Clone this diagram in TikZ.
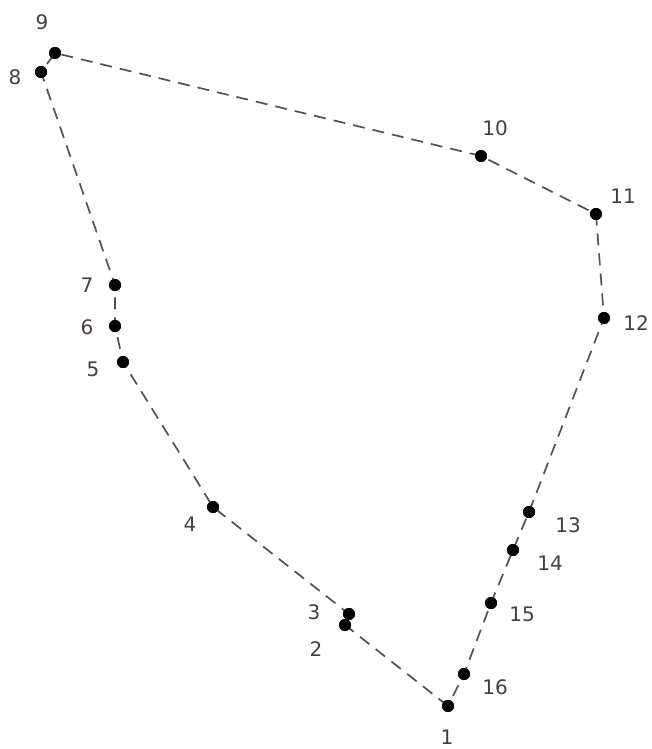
\documentclass[tikz,border=0pt]{standalone}
\usepackage{fontspec}
\setmainfont{DejaVu Sans}
\definecolor{edgecol}{RGB}{95,75,85}
\definecolor{numcol}{RGB}{70,60,70}
\tikzset{
    pt/.style={circle, fill=black, inner sep=0pt, minimum size=12pt},
    num/.style={text=numcol, font=\fontsize{20}{23}\selectfont, inner sep=0pt},
    hull/.style={edgecol, line width=1.7pt, dash pattern=on 12pt off 8pt}
}
\begin{document}
\begin{tikzpicture}[x=1pt, y=-1pt]

    \useasboundingbox (0,0) rectangle (651,749);

    % Points
    \node[pt] (p1) at (448,706) {};
    \node[pt] (p2) at (345,625) {};
    \node[pt] (p3) at (349,614) {};
    \node[pt] (p4) at (213,507) {};
    \node[pt] (p5) at (123,362) {};
    \node[pt] (p6) at (115,326) {};
    \node[pt] (p7) at (115,285) {};
    \node[pt] (p8) at (41,72) {};
    \node[pt] (p9) at (55,53) {};
    \node[pt] (p10) at (481,156) {};
    \node[pt] (p11) at (596,214) {};
    \node[pt] (p12) at (604,318) {};
    \node[pt] (p13) at (529,512) {};
    \node[pt] (p14) at (513,550) {};
    \node[pt] (p15) at (491,603) {};
    \node[pt] (p16) at (464,674) {};

    % Hull edges
    \draw[hull] (p1.center) -- (p2.center) -- (p3.center) -- (p4.center)
        -- (p5.center) -- (p6.center) -- (p7.center) -- (p8.center)
        -- (p9.center) -- (p10.center) -- (p11.center) -- (p12.center)
        -- (p13.center) -- (p14.center) -- (p15.center) -- (p16.center)
        -- (p1.center);

    % Redraw points on top
    \foreach \p in {p1,p2,p3,p4,p5,p6,p7,p8,p9,p10,p11,p12,p13,p14,p15,p16}
        \fill (\p) circle (6pt);

    % Labels
    \node[num] (n1) at (447,737) {1};
    \node[num] (n2) at (316,649) {2};
    \node[num] (n3) at (314,612) {3};
    \node[num] (n4) at (190,524) {4};
    \node[num] (n5) at (93,369) {5};
    \node[num] (n6) at (87,327) {6};
    \node[num] (n7) at (87,285) {7};
    \node[num] (n8) at (15,77) {8};
    \node[num] (n9) at (42,22) {9};
    \node[num] (n10) at (495,128) {10};
    \node[num] (n11) at (623,196) {11};
    \node[num] (n12) at (636,323) {12};
    \node[num] (n13) at (568,525) {13};
    \node[num] (n14) at (550,563) {14};
    \node[num] (n15) at (522,614) {15};
    \node[num] (n16) at (495,687) {16};

\end{tikzpicture}
\end{document}
